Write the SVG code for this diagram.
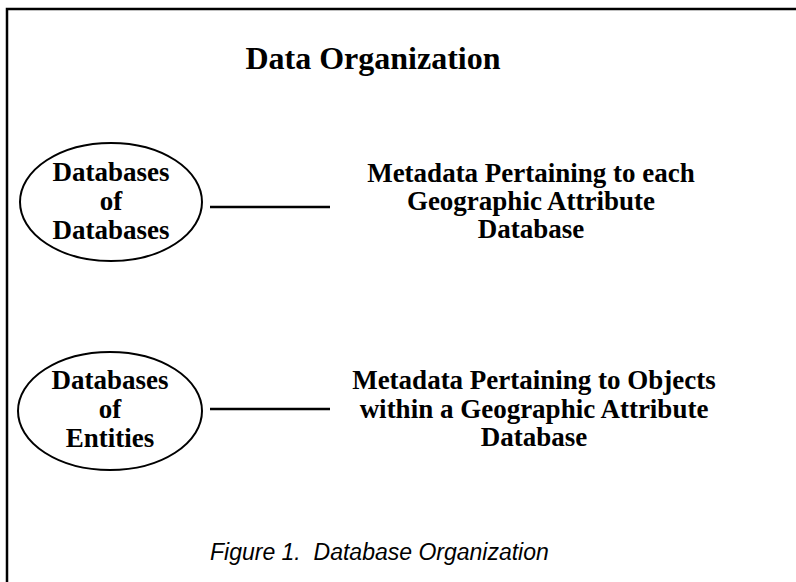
<svg xmlns="http://www.w3.org/2000/svg" width="796" height="582" viewBox="0 0 796 582">
  <style>
    .frame { fill: none; stroke: #000; stroke-width: 2.5; }
    .oval { fill: #fff; stroke: #000; stroke-width: 2; }
    .link { stroke: #000; stroke-width: 2.5; }
    .bold { font-family: "Liberation Serif", "Times New Roman", serif; font-weight: bold; fill: #000; text-anchor: middle; }
    .body { font-size: 27px; }
    .title { font-size: 32px; }
    .caption { font-family: "Liberation Sans", Arial, sans-serif; font-style: italic; font-size: 23px; fill: #000; white-space: pre; }
  </style>

  <rect width="796" height="582" fill="#fff"/>
  <!-- page frame, running off the right and bottom edges -->
  <rect class="frame" x="7" y="9" width="820" height="620"/>

  <text class="bold title" x="373" y="69">Data Organization</text>

  <g id="node-databases-of-databases">
    <ellipse class="oval" cx="111" cy="202" rx="91" ry="59"/>
    <text class="bold body" x="111" y="181">Databases</text>
    <text class="bold body" x="111" y="210">of</text>
    <text class="bold body" x="111" y="239">Databases</text>
  </g>

  <g id="node-databases-of-entities">
    <ellipse class="oval" cx="110" cy="411" rx="92" ry="59"/>
    <text class="bold body" x="110" y="389">Databases</text>
    <text class="bold body" x="110" y="418">of</text>
    <text class="bold body" x="110" y="447">Entities</text>
  </g>

  <g id="node-metadata-database">
    <text class="bold body" x="531" y="182">Metadata Pertaining to each</text>
    <text class="bold body" x="531" y="210">Geographic Attribute</text>
    <text class="bold body" x="531" y="238">Database</text>
  </g>

  <g id="node-metadata-objects">
    <text class="bold body" x="534" y="389">Metadata Pertaining to Objects</text>
    <text class="bold body" x="534" y="418">within a Geographic Attribute</text>
    <text class="bold body" x="534" y="446">Database</text>
  </g>

  <g id="connectors">
    <line class="link" x1="210" y1="207" x2="330" y2="207"/>
    <line class="link" x1="210" y1="409" x2="330" y2="409"/>
  </g>

  <text class="caption" x="210" y="560" xml:space="preserve">Figure 1.  Database Organization</text>
</svg>
